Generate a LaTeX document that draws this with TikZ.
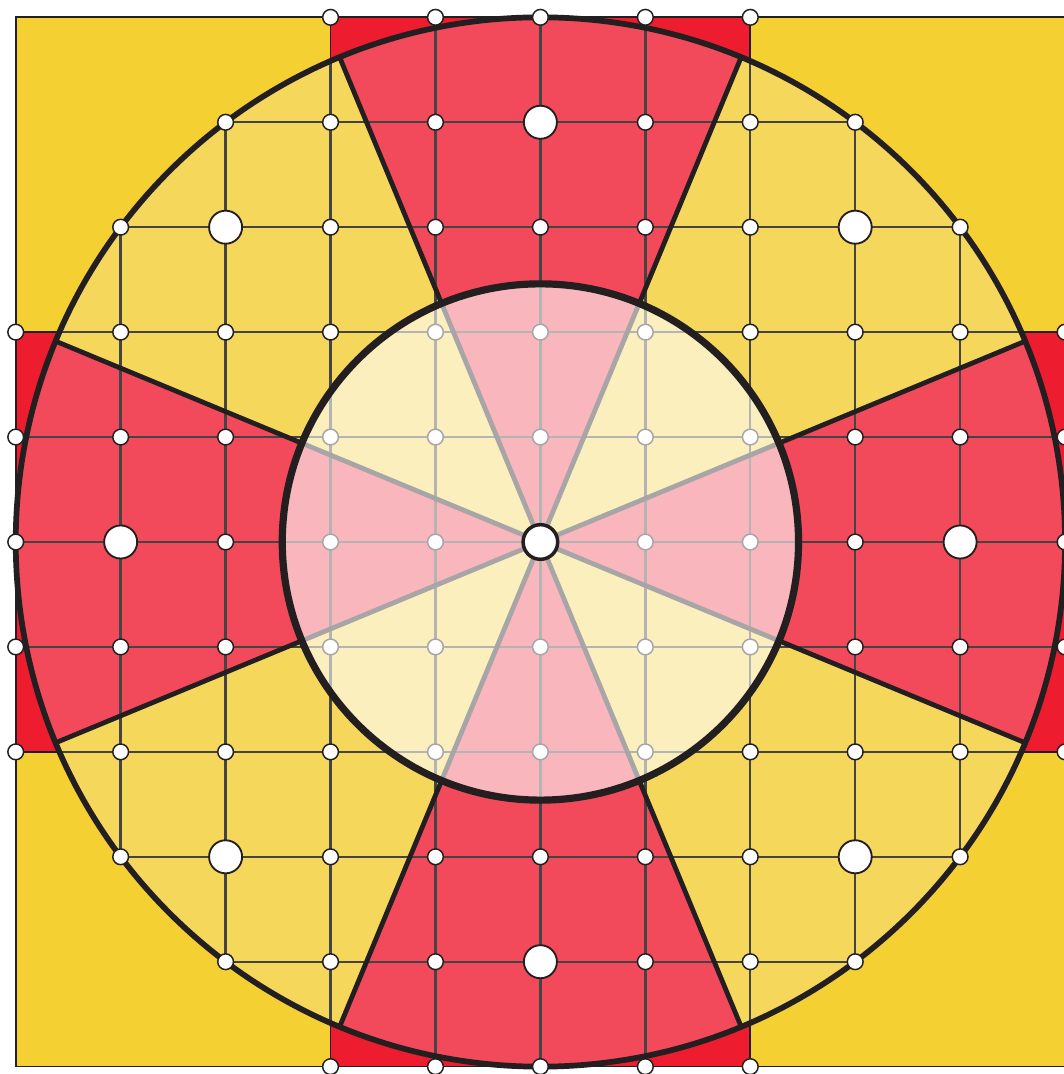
\documentclass[tikz,border=0pt]{standalone}
\definecolor{cornerYellow}{HTML}{F4D033}
\definecolor{crossRed}{HTML}{ED1C2E}
\definecolor{sectorRed}{HTML}{F2495B}
\definecolor{sectorYellow}{HTML}{F5D75B}
\definecolor{inkDark}{HTML}{231F20}
\definecolor{gridGray}{HTML}{444444}

\begin{document}
\begin{tikzpicture}[
    dot/.style={circle, draw=inkDark, line width=0.4pt, fill=white, inner sep=0pt, minimum size=1.5mm},
    bigdot/.style={dot, minimum size=3.15mm, line width=0.5pt},
    centerdot/.style={dot, minimum size=3.3mm, line width=0.95pt}
]

% Parameters
\def\R{5}        % radius of the outer circle
\def\r{2.46}     % radius of the inner circle

\useasboundingbox (-5.15,-5.07) rectangle (4.984,5.165);

% Square with yellow corners
\filldraw[fill=cornerYellow, draw=inkDark, line width=0.45pt] (-5,-5) rectangle (5,5);

% Red cross (only its ends stay visible)
\filldraw[fill=crossRed, draw=inkDark, line width=0.45pt] (-2,-5) rectangle (2,5);
\filldraw[fill=crossRed, draw=inkDark, line width=0.45pt] (-5,-2) rectangle (5,2);

% Eight sectors of the outer circle
\fill[sectorYellow] (0,0) circle (\R);
\foreach \a in {0,90,180,270} {
    \fill[sectorRed] (0,0) -- (\a-22.5:\R) arc[start angle=\a-22.5, end angle=\a+22.5, radius=\R] -- cycle;
}

% Grid inside the circle
\begin{scope}
    \clip (0,0) circle (\R);
    \draw[gridGray, line width=0.65pt] (-5,-5) grid (5,5);
\end{scope}

% Sector boundaries
\foreach \a in {22.5,67.5,...,337.5} {
    \draw[inkDark, line width=1.3pt] (0,0) -- (\a:\R);
}

% Outer circle
\draw[inkDark, line width=1.55pt] (0,0) circle (\R);

% Small dots on the grid points of the cross and the disc
\foreach \i in {-5,...,5} {
    \foreach \j in {-5,...,5} {
        \pgfmathtruncatemacro\d{\i*\i+\j*\j}
        \pgfmathtruncatemacro\u{\i+5}
        \pgfmathtruncatemacro\v{\j+5}
        \ifnum\d<30
            \node[dot] (p\u\v) at (\i,\j) {};
        \fi
    }
}

% Larger dots
\foreach \i/\j [count=\k] in {0/4,3/3,4/0,3/-3,0/-4,-3/-3,-4/0,-3/3} {
    \node[bigdot] (b\k) at (\i,\j) {};
}

% Inner circle, pale over the rest
\fill[white, fill opacity=0.6] (0,0) circle (\r);
\draw[inkDark, line width=1.95pt] (0,0) circle (\r);

% Centre dot
\node[centerdot] (c) at (0,0) {};

\end{tikzpicture}
\end{document}
